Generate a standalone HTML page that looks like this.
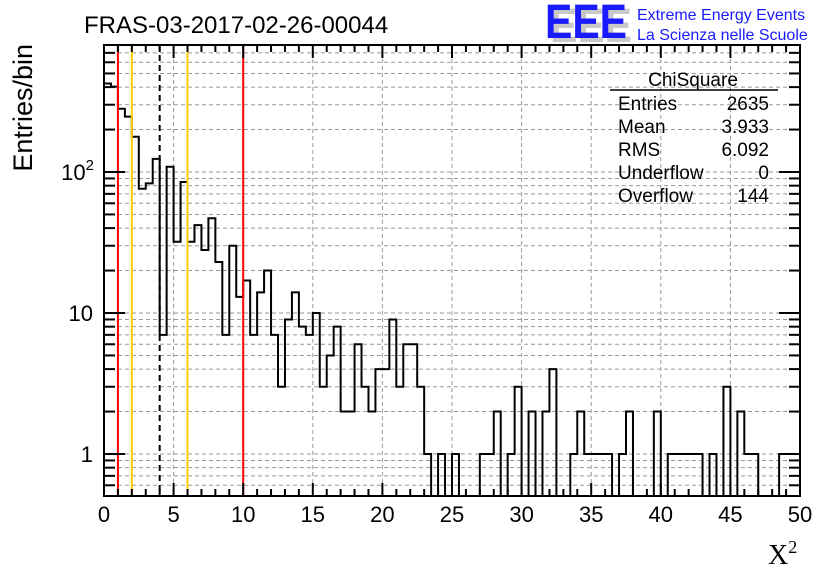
<!DOCTYPE html>
<html><head><meta charset="utf-8"><style>
body{margin:0;background:#fff;}
svg{display:block;font-family:"Liberation Sans",sans-serif;}
</style></head><body>
<svg id="c" width="836" height="572" viewBox="0 0 836 572">
<text x="84" y="33" font-size="24">FRAS-03-2017-02-26-00044</text>
<g>
<text x="550" y="42" font-size="48" font-weight="bold" fill="#c8c8c8" textLength="82" lengthAdjust="spacingAndGlyphs">EEE</text>
<text x="545" y="38" font-size="48" font-weight="bold" fill="#1a1aff" textLength="82" lengthAdjust="spacingAndGlyphs">EEE</text>
<text x="637" y="20" font-size="16" fill="#1a1aff">Extreme Energy Events</text>
<text x="637" y="40" font-size="16" fill="#1a1aff">La Scienza nelle Scuole</text>
</g>
<g id="grid"></g>
<g id="marks"></g>
<g id="axes"></g>
<g font-size="19">
<text x="693" y="86" text-anchor="middle">ChiSquare</text>
<line x1="610" y1="90" x2="778" y2="90" stroke="#000" stroke-width="1.5"/>
<text x="618" y="110">Entries</text><text x="769" y="110" text-anchor="end">2635</text>
<text x="618" y="133">Mean</text><text x="769" y="133" text-anchor="end">3.933</text>
<text x="618" y="156">RMS</text><text x="769" y="156" text-anchor="end">6.092</text>
<text x="618" y="179">Underflow</text><text x="769" y="179" text-anchor="end">0</text>
<text x="618" y="202">Overflow</text><text x="769" y="202" text-anchor="end">144</text>
</g>
<text font-size="27" transform="rotate(-90)" text-anchor="end" x="-44" y="32">Entries/bin</text>
<text x="768" y="564" font-family="'Liberation Serif',serif" font-size="28">X<tspan font-size="18" dy="-11">2</tspan></text>
</svg>
<script>
const counts=[424,403,281,247,178,76,83,124,7,109,32,85,32,42,28,47,23,7,30,13,17,7,14,20,7,3,9,14,8,7,10,3,5,8,2,2,6,3,2,4,4,9,3,6,6,3,1,0,1,0,1,0,0,0,1,1,2,0,1,3,0,2,0,2,4,0,0,1,2,1,1,1,1,0,1,2,0,0,0,2,0,1,1,1,1,1,0,1,0,3,0,2,1,1,0,0,0,1,1,1];
const binWidth=[0.5];
const xTicks=[0,5,10,15,20,25,30,35,40,45,50];
const yTickLabels=["1","10","10²"];
const markerRed=[1,10];
const markerGold=[2,6];
const markerDashed=[4];
const L=104,R=800,T=45,B=496;
const X=v=>L+(v-0)/(50-0)*(R-L);
const Y=v=>454-Math.log10(v)*141;
const NS="http://www.w3.org/2000/svg";
function mk(p,t,a){const e=document.createElementNS(NS,t);for(const k in a)e.setAttribute(k,a[k]);p.appendChild(e);return e;}
const grid=document.getElementById('grid'),marks=document.getElementById('marks'),axes=document.getElementById('axes');
for(const t of xTicks){if(t>0&&t<50){const g=mk(grid,'line',{x1:X(t),x2:X(t),y1:T,y2:B,stroke:'#999','stroke-dasharray':'4,3','stroke-width':1});

}}
const minorVals=[];for(const d of [0.1,1,10,100]){for(let m=1;m<10;m++){const v=m*d;const y=Y(v);if(y>T&&y<B)minorVals.push(v);}}
for(const v of minorVals){const g=mk(grid,'line',{x1:L,x2:R,y1:Y(v),y2:Y(v),stroke:'#999','stroke-dasharray':'4,3','stroke-width':1});

}
const bw=binWidth[0];let d='';let prev=null;
counts.forEach((c,i)=>{const yy=c>0?Math.max(Y(c),T):B;const x0=X(i*bw),x1=X((i+1)*bw);
if(prev===null)d+=`M${x0},${yy}`;else d+=`L${x0},${yy}`;d+=`L${x1},${yy}`;prev=yy;});
d+=`L${X(50)},${B}`;
const h=mk(marks,'path',{d:d,fill:'none',stroke:'#000','stroke-width':2});


for(const v of markerRed){const l=mk(marks,'line',{x1:X(v),x2:X(v),y1:T,y2:B,stroke:'#ff0000','stroke-width':2});

}
for(const v of markerGold){const l=mk(marks,'line',{x1:X(v),x2:X(v),y1:T,y2:B,stroke:'#ffcc00','stroke-width':2});

}
for(const v of markerDashed){const l=mk(marks,'line',{x1:X(v),x2:X(v),y1:T,y2:B,stroke:'#000','stroke-width':2,'stroke-dasharray':'6,4'});

}
const f=mk(axes,'rect',{x:L,y:T,width:R-L,height:B-T,fill:'none',stroke:'#000','stroke-width':2});


for(let v=0;v<=50;v++){const len=v%5===0?13:7;
mk(axes,'line',{x1:X(v),x2:X(v),y1:B,y2:B-len,stroke:'#000','stroke-width':2});
mk(axes,'line',{x1:X(v),x2:X(v),y1:T,y2:T+len,stroke:'#000','stroke-width':2});}
for(const t of xTicks){const tx=mk(axes,'text',{x:X(t),y:522,'font-size':22,'text-anchor':'middle'});tx.textContent=t;

}
for(const v of minorVals){const major=[1,10,100].includes(Math.round(v*1000)/1000);const len=major?21:11;
mk(axes,'line',{x1:L,x2:L+len,y1:Y(v),y2:Y(v),stroke:'#000','stroke-width':2});
mk(axes,'line',{x1:R,x2:R-len,y1:Y(v),y2:Y(v),stroke:'#000','stroke-width':2});}
[1,10,100].forEach((v,i)=>{const tx=mk(axes,'text',{x:93,y:Y(v)+8,'font-size':22,'text-anchor':'end'});
tx.textContent=i===2?'10':yTickLabels[i];
if(i===2){const s=mk(tx,'tspan',{'font-size':15,dy:-10});s.textContent='2';tx.setAttribute('x',94);}

});
</script>
</body></html>
